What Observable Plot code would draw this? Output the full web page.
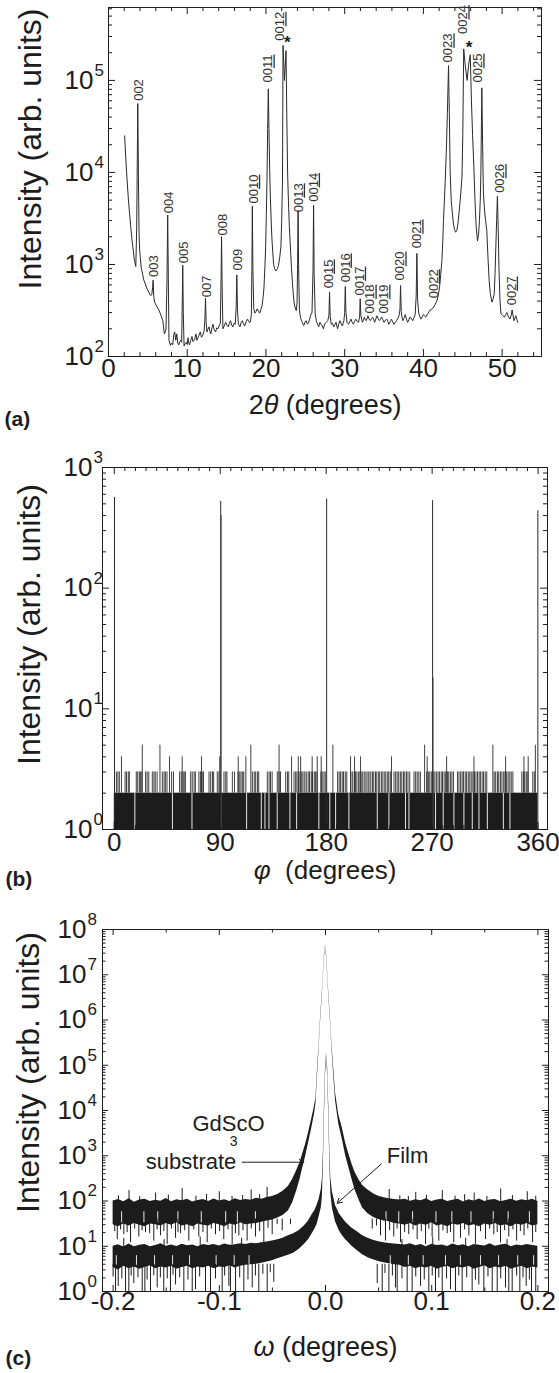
<!DOCTYPE html>
<html><head><meta charset="utf-8">
<script src="https://cdn.jsdelivr.net/npm/d3@7"></script>
<script src="https://cdn.jsdelivr.net/npm/@observablehq/plot@0.6"></script>
<style>
html,body{margin:0;padding:0;background:#fff;}
#chart svg{display:block;}
</style></head>
<body><div id="chart"></div>
<script>
// ---------------- Panel (a): 2theta scan ----------------
const aScan = [
[2.05,25000],[2.2,14000],[2.35,8500],[2.5,5500],[2.65,3800],[2.8,2700],[3.0,1800],[3.15,1400],[3.3,1100],[3.47,950],
[3.58,2500],[3.65,12000],[3.72,56000],[3.8,9000],[3.88,2200],[3.95,1450],[4.15,930],[4.48,680],[4.9,545],[5.33,460],
[5.5,470],[5.6,560],[5.67,675],[5.75,450],[5.85,390],[6.18,345],[6.4,320],[6.6,290],[6.9,245],[7.1,176],
[7.3,195],[7.42,600],[7.52,3450],[7.6,700],[7.68,150],[7.87,132],[8.0,140],[8.16,134],[8.3,175],[8.41,185],
[8.55,150],[8.67,176],[8.8,140],[8.92,134],[9.05,145],[9.17,150],[9.3,143],[9.38,450],[9.43,980],[9.5,300],
[9.6,130],[9.73,138],[9.86,143],[10.0,135],[10.1,160],[10.2,140],[10.3,134],[10.45,150],[10.6,165],[10.73,145],
[10.86,150],[11.0,158],[11.1,176],[11.23,150],[11.36,160],[11.5,170],[11.66,185],[11.8,162],[11.95,168],[12.15,190],
[12.25,260],[12.32,430],[12.4,240],[12.5,185],[12.63,198],[12.76,210],[12.88,188],[13.0,176],[13.14,205],[13.27,224],
[13.43,195],[13.6,185],[13.75,205],[13.9,200],[14.05,215],[14.2,230],[14.3,700],[14.36,2000],[14.43,600],[14.53,200],
[14.7,215],[14.88,235],[15.05,218],[15.22,210],[15.36,230],[15.5,245],[15.65,220],[15.8,210],[15.95,230],[16.1,224],
[16.22,350],[16.3,770],[16.38,330],[16.5,225],[16.7,210],[16.85,235],[17.0,245],[17.15,225],[17.3,215],[17.5,240],
[17.65,255],[17.8,240],[18.0,235],[18.15,285],[18.22,1000],[18.27,4300],[18.34,900],[18.45,330],[18.6,296],[18.75,310],
[18.9,330],[19.05,310],[19.2,296],[19.35,325],[19.5,355],[19.65,450],[19.75,565],[19.88,1000],[19.96,1550],[20.05,3500],
[20.13,8100],[20.22,30000],[20.3,81000],[20.38,30000],[20.47,11000],[20.56,5400],[20.67,2900],[20.77,1820],[20.88,1300],[20.98,1000],
[21.1,900],[21.27,850],[21.45,900],[21.6,980],[21.75,1200],[21.9,1550],[22.0,3000],[22.1,8100],[22.17,240000],[22.35,100000],
[22.55,210000],[22.65,40000],[22.75,10000],[22.85,5000],[22.97,2600],[23.1,1550],[23.25,900],[23.4,565],[23.55,400],[23.68,345],
[23.85,315],[23.95,380],[24.02,1000],[24.08,3800],[24.15,900],[24.25,320],[24.37,268],[24.55,240],[24.8,217],[24.95,235],
[25.1,245],[25.25,225],[25.4,230],[25.55,255],[25.7,285],[25.85,300],[25.98,900],[26.05,4400],[26.12,800],[26.25,290],
[26.4,245],[26.55,225],[26.7,210],[26.85,235],[27.0,224],[27.15,215],[27.3,200],[27.45,225],[27.65,235],[27.85,245],
[28.0,280],[28.08,500],[28.16,270],[28.3,224],[28.45,230],[28.6,210],[28.75,222],[28.9,235],[29.0,215],[29.1,200],
[29.25,225],[29.4,245],[29.55,228],[29.7,215],[29.9,245],[30.0,300],[30.08,575],[30.16,300],[30.3,235],[30.5,224],
[30.65,240],[30.8,255],[30.95,235],[31.1,224],[31.25,240],[31.4,255],[31.6,240],[31.75,235],[31.9,268],[31.97,425],
[32.05,280],[32.25,235],[32.4,252],[32.5,268],[32.62,250],[32.75,245],[32.95,277],[33.1,255],[33.25,245],[33.4,258],
[33.55,268],[33.7,250],[33.8,235],[33.95,255],[34.1,277],[34.25,258],[34.4,245],[34.55,255],[34.7,268],[34.85,250],
[35.0,235],[35.2,250],[35.35,255],[35.5,240],[35.6,224],[35.8,240],[35.95,255],[36.1,238],[36.25,224],[36.45,235],
[36.6,245],[36.75,260],[36.9,277],[37.02,320],[37.1,590],[37.18,310],[37.3,260],[37.4,245],[37.55,265],[37.7,285],
[37.85,255],[38.0,235],[38.15,250],[38.3,268],[38.5,255],[38.65,245],[38.8,265],[38.95,285],[39.08,450],[39.17,1320],
[39.26,420],[39.4,296],[39.55,270],[39.7,255],[39.85,270],[40.0,285],[40.15,275],[40.3,268],[40.45,282],[40.6,296],
[40.75,310],[40.85,320],[41.0,325],[41.15,330],[41.3,345],[41.5,370],[41.6,385],[41.75,410],[41.9,470],[42.05,566],
[42.2,780],[42.35,1100],[42.45,1700],[42.55,3000],[42.67,5000],[42.77,8100],[42.9,16000],[43.05,45000],[43.19,145000],[43.3,40000],
[43.4,10000],[43.53,5000],[43.68,3600],[43.82,2760],[43.95,2400],[44.1,2240],[44.25,2350],[44.38,2760],[44.52,3600],[44.67,5000],
[44.8,6800],[44.9,9000],[45.0,25000],[45.12,220000],[45.3,150000],[45.55,100000],[45.75,150000],[45.95,190000],[46.1,60000],[46.25,25000],
[46.4,12000],[46.55,5000],[46.7,2600],[46.87,1800],[47.0,2100],[47.12,3000],[47.22,5000],[47.3,10000],[47.42,83000],[47.52,20000],
[47.62,6000],[47.75,4000],[47.9,3000],[48.05,2350],[48.2,1200],[48.35,670],[48.5,480],[48.7,390],[48.85,420],[49.0,480],
[49.1,800],[49.2,1550],[49.3,3000],[49.4,5500],[49.5,2500],[49.6,900],[49.72,420],[49.85,290],[50.05,280],[50.3,268],
[50.45,285],[50.6,300],[50.8,270],[51.0,255],[51.15,280],[51.27,320],[51.4,275],[51.5,245],[51.62,262],[51.75,277],
[51.88,250],[52.0,235]
];
// [label, 2theta, intensity at the label's foot]
const aPeakLabels = [
["002",3.85,60000],["003",5.75,730],["004",7.65,3600],["005",9.55,1030],["007",12.5,440],["008",14.5,2070],
["009",16.4,860],["0010",18.45,4600],["0011",20.3,95000],["0012",21.8,270000],["0013",24.15,3700],["0014",26.05,4800],
["0015",27.95,550],["0016",30.1,640],["0017",31.9,460],["0018",33.25,293],["0019",35.0,293],["0020",37.05,670],
["0021",39.2,1500],["0022",41.3,430],["0023",43.15,157000],["0024",45.05,320000],["0025",46.95,95000],["0026",49.75,6000],
["0027",51.2,360]
];
const aStars = [[22.7,2.6e5],[45.8,2.3e5]];
const aXTicks = [0,10,20,30,40,50];
const aXTickLabels = ["0","10","20","30","40","50"];
const aXMinor = [2,4,6,8,12,14,16,18,22,24,26,28,32,34,36,38,42,44,46,48,52,54];
const aYExp = [2,3,4,5];

// ---------------- Panel (b): phi scan ----------------
const bPeaks = [[0.2,565],[90.4,523],[180.4,548],[270.4,531],[359.8,438]];
const bShoulders = [[90.9,400],[270.9,18]];
const bBand = [[0.0,359.8]];
const bSpikes3 = [1.8,3.1,4.3,9.2,10.4,11.9,12.8,18.7,19.9,21.3,22.2,23.4,26.6,27.9,29.3,32.3,33.7,34.8,36.4,
40.8,42.3,43.4,44.8,48.7,50.3,55.5,56.9,58.5,59.4,60.4,64.9,66.2,67.8,68.9,71.9,73.2,74.7,75.8,80.5,81.9,83.4,84.4,
87.5,88.9,93.2,94.7,95.7,100.3,102.1,105.1,106.6,107.7,109.1,110.0,117.3,118.9,120.1,121.6,122.7,130.0,131.5,132.7,134.1,
138.5,139.9,141.2,145.6,147.1,148.2,152.7,154.1,155.2,156.7,157.8,159.3,160.3,161.8,163.1,164.7,165.8,167.3,168.4,169.9,
171.0,172.2,175.5,176.6,178.1,179.2,189.7,191.0,192.1,193.6,194.7,196.2,197.5,200.9,202.2,203.8,205.0,206.1,207.6,208.7,
210.3,211.2,212.8,213.9,215.5,216.4,217.9,219.3,220.4,221.9,223.0,224.6,225.5,227.1,228.2,229.8,230.7,232.3,233.2,234.5,
237.6,239.0,240.3,241.6,243.0,244.2,245.7,246.8,248.2,249.5,251.0,254.6,256.0,257.3,258.7,260.0,265.4,266.8,268.0,269.3,
271.0,272.3,273.6,275.0,276.2,277.7,278.8,280.2,281.5,283.0,284.1,285.5,286.8,288.1,291.5,292.8,294.2,295.5,296.6,298.1,
299.3,300.7,302.0,303.2,304.6,306.0,307.2,308.5,309.9,311.0,312.5,313.7,315.1,316.4,322.7,324.0,325.5,326.6,328.0,329.3,
330.8,331.9,333.3,334.6,336.0,337.2,338.6,346.2,347.5,348.7,350.0,351.3,355.5,356.8];
const bSpikes4 = [6.1,46.9,57.7,74.1,89.6,105.3,111.8,150.6,156.3,158.3,168.1,172.4,175.8,200.7,204.1,209.2,235.5,265.8,282.3,305.5,332.4,348.0,351.6];
const bSpikes5 = [23.8,38.8,116,140,185.7,263.6,321.6,357.7];
const bGaps = [17.5,49.4,66,112.4,124.9,128,131.4,138.4,149.2,154.9,173.8,183.1,188,199.3,223.4,233.3,247.4,250.3,272.9,279.4,288.5,297,304.1,309.8,316.9,330.5,336.1];
const bXTicks = [0,90,180,270,360];
const bXTickLabels = ["0","90","180","270","360"];
const bYExp = [0,1,2,3];

// ---------------- Panel (c): omega rocking curves ----------------
// [omega, lower edge, upper edge] of the noisy trace
const cSubstrate = [
[-0.200,30,100],[-0.195,27,108],[-0.190,31,96],[-0.185,28,112],[-0.180,32,94],[-0.175,29,105],[-0.170,27,110],[-0.165,31,97],
[-0.160,30,104],[-0.155,28,99],[-0.150,32,113],[-0.145,29,96],[-0.140,33,106],[-0.135,28,101],[-0.130,30,110],[-0.125,27,95],
[-0.120,31,103],[-0.115,29,108],[-0.110,28,97],[-0.105,32,111],[-0.100,30,100],[-0.095,27,106],[-0.090,31,98],[-0.085,29,112],
[-0.080,33,103],[-0.075,30,108],[-0.070,31,104],[-0.065,32,115],[-0.060,34,110],[-0.055,36,120],[-0.050,38,125],[-0.045,42,140],
[-0.040,48,165],[-0.035,60,210],[-0.031,90,300],[-0.027,170,480],[-0.024,300,700],[-0.022,480,1000],[-0.019,900,1700],
[-0.016,1900,3200],[-0.013,4000,6500],[-0.0105,8000,12000],[-0.009,14000,19000],[-0.0075,60000,85000],[-0.006,2.4e5,3e5],
[-0.0047,9e5,1.1e6],[-0.003,3.5e6,4.2e6],[-0.002,1e7,1.15e7],[-0.001,2.4e7,2.8e7],[0.0,4.2e7,4.5e7],[0.001,2.4e7,2.8e7],
[0.002,1e7,1.15e7],[0.003,3.5e6,4.2e6],[0.0047,9e5,1.1e6],[0.006,2.4e5,3e5],[0.0075,70000,1e5],[0.0095,16000,24000],
[0.0125,5000,8000],[0.0157,2400,4200],[0.019,1000,1900],[0.022,550,1100],[0.025,300,650],[0.028,170,420],[0.032,100,280],
[0.035,70,220],[0.040,52,175],[0.045,44,145],[0.050,39,128],[0.055,36,118],[0.060,35,112],[0.065,32,108],[0.070,31,105],
[0.075,29,110],[0.080,32,99],[0.085,28,107],[0.090,31,101],[0.095,29,112],[0.100,33,97],[0.105,28,105],[0.110,30,110],
[0.115,27,98],[0.120,31,104],[0.125,29,109],[0.130,32,95],[0.135,28,106],[0.140,30,100],[0.145,27,111],[0.150,31,97],
[0.155,29,105],[0.160,32,108],[0.165,28,96],[0.170,30,103],[0.175,27,110],[0.180,31,99],[0.185,29,106],[0.190,32,101],
[0.195,28,109],[0.200,30,98]
];
const cFilm = [
[-0.200,3.4,10],[-0.195,3.0,10.8],[-0.190,3.6,9.6],[-0.185,3.2,11.2],[-0.180,3.5,9.8],[-0.175,3.1,10.5],[-0.170,3.4,11.0],
[-0.165,3.7,9.7],[-0.160,3.2,10.4],[-0.155,3.5,11.3],[-0.150,3.3,10.0],[-0.145,3.6,10.7],[-0.140,3.1,9.9],[-0.135,3.4,11.1],
[-0.130,3.6,10.2],[-0.125,3.2,10.6],[-0.120,3.5,9.8],[-0.115,3.3,11.0],[-0.110,3.6,10.4],[-0.105,3.2,10.9],[-0.100,3.5,10.1],
[-0.095,3.4,11.2],[-0.090,3.7,10.5],[-0.085,3.3,10.8],[-0.080,3.6,11.3],[-0.075,3.8,10.9],[-0.070,3.9,11.6],[-0.065,4.0,11.4],
[-0.060,4.2,12.0],[-0.055,4.5,12.4],[-0.050,4.8,13.0],[-0.045,5.3,14.0],[-0.040,5.8,15.0],[-0.035,6.3,17.0],[-0.030,7.0,19.0],
[-0.025,8.5,22],[-0.020,11,28],[-0.016,14,36],[-0.0125,19,50],[-0.010,24,62],[-0.008,30,80],[-0.006,45,110],[-0.004,70,180],
[-0.003,120,300],[-0.002,600,1200],[-0.001,8000,15000],[0.000,60000,90000],[0.001,160000,185000],[0.002,60000,90000],
[0.003,8000,15000],[0.004,800,1500],[0.005,150,320],[0.0065,70,160],[0.0094,35,80],[0.013,22,52],[0.016,17,42],[0.019,14,34],
[0.025,10,25],[0.030,8,21],[0.035,6.5,17],[0.040,5.6,15],[0.045,5.0,13.5],[0.050,4.6,12.5],[0.055,4.3,12.0],[0.060,4.1,11.5],
[0.065,3.9,11.2],[0.070,3.8,11.0],[0.075,3.4,10.6],[0.080,3.6,11.3],[0.085,3.2,10.2],[0.090,3.5,10.9],[0.095,3.3,9.8],
[0.100,3.6,11.1],[0.105,3.1,10.4],[0.110,3.4,10.7],[0.115,3.6,9.9],[0.120,3.2,11.2],[0.125,3.5,10.3],[0.130,3.3,10.8],
[0.135,3.6,9.7],[0.140,3.1,11.0],[0.145,3.4,10.5],[0.150,3.7,10.1],[0.155,3.2,11.3],[0.160,3.5,10.0],[0.165,3.3,10.6],
[0.170,3.6,11.1],[0.175,3.1,9.8],[0.180,3.4,10.7],[0.185,3.6,10.2],[0.190,3.2,11.0],[0.195,3.5,10.4],[0.200,3.3,10.0]
];
// noise spikes: [omega, intensity reached]
const cFilmDown = [[-0.1977,1],[-0.1952,1.3],[-0.1883,1],[-0.1852,1],[-0.1805,1.5],[-0.1726,1],[-0.1701,1],[-0.1648,1],
[-0.1585,1.2],[-0.1523,1],[-0.146,1],[-0.1412,1.4],[-0.1334,1],[-0.1255,1],[-0.1224,1.1],[-0.113,1],[-0.1083,1],[-0.0973,1],
[-0.091,1.3],[-0.0895,1],[-0.0847,1],[-0.0769,1],[-0.069,1.2],[-0.0628,1],[-0.0549,1],[-0.0487,1.6],
[0.0487,1.5],[0.0534,1],[0.0597,1],[0.0659,1.2],[0.0675,1],[0.0769,1],[0.0816,1],[0.0895,1.3],[0.0973,1],[0.1036,1],
[0.1099,1],[0.1177,1.1],[0.1224,1],[0.1287,1],[0.1381,1],[0.1444,1.4],[0.1491,1],[0.157,1],[0.1617,1],[0.1695,1.2],
[0.1726,1],[0.1758,1],[0.183,1],[0.189,1.3],[0.194,1],[0.198,1]];
const cFilmDownShort = [[-0.2,2.1],[-0.1918,1.9],[-0.183,2.2],[-0.1766,2.0],[-0.168,1.8],[-0.1617,2.2],[-0.1555,2.0],[-0.149,1.9],
[-0.1436,2.3],[-0.1373,2.0],[-0.1295,1.8],[-0.1185,2.1],[-0.1036,1.9],[-0.095,2.2],[-0.0808,2.0],[-0.073,1.8],[-0.066,2.2],
[-0.059,2.4],[-0.052,2.6],[0.056,2.5],[0.063,2.2],[0.072,1.9],[0.085,2.1],[0.093,1.8],[0.1005,2.2],[0.1067,2.0],[0.114,1.9],
[0.1255,2.2],[0.133,2.0],[0.1412,1.8],[0.153,2.1],[0.165,1.9],[0.18,2.2],[0.186,2.0],[0.192,1.8]];
const cFilmUp = [[-0.19,15],[-0.152,14],[-0.118,16],[-0.079,15],[0.072,14],[0.101,16],[0.132,15],[0.171,14]];
const cFilmStreaks = [-0.197,-0.178,-0.161,-0.144,-0.128,-0.103,-0.086,-0.072,0.061,0.078,0.092,0.113,0.127,0.146,0.163,0.181,0.196];
const cSubDown = [[-0.1961,14],[-0.1899,18],[-0.1836,12],[-0.1758,16],[-0.1695,20],[-0.1617,13],[-0.1554,17],[-0.1491,11],
[-0.1412,15],[-0.1365,19],[-0.1287,13],[-0.1193,16],[-0.1114,12],[-0.1036,18],[-0.0958,14],[-0.0879,11],[-0.0816,17],
[-0.0738,13],[-0.0659,16],[-0.0581,12],[-0.0502,18],[-0.0408,22],[-0.033,30],
[0.044,24],[0.0518,17],[0.0565,13],[0.0643,16],[0.0706,12],[0.0784,18],[0.0863,14],[0.0942,11],[0.1004,16],[0.1067,13],
[0.1146,19],[0.1208,12],[0.1271,15],[0.135,17],[0.1412,11],[0.1507,14],[0.1585,18],[0.1648,12],[0.1726,16],[0.18,13],
[0.187,17],[0.195,12]];
const cSubDownShort = [[-0.1985,21],[-0.193,23],[-0.1868,20],[-0.1797,24],[-0.1727,22],[-0.1656,19],[-0.1586,23],[-0.1522,21],
[-0.1451,24],[-0.1389,20],[-0.1326,22],[-0.124,23],[-0.1154,20],[-0.1075,24],[-0.0997,21],[-0.0918,23],[-0.0848,19],
[-0.0777,22],[-0.0699,24],[-0.062,21],[-0.0541,25],[-0.0455,30],[0.048,28],[0.0604,22],[0.0674,24],[0.0745,20],[0.0824,23],
[0.0902,21],[0.0973,24],[0.1106,22],[0.1177,20],[0.131,23],[0.146,21],[0.1546,24],[0.1617,20],[0.1687,22],[0.1765,23],
[0.1835,21],[0.1905,24],[0.198,20]];
const cSubUp = [[-0.185,170],[-0.16,150],[-0.135,190],[-0.1,160],[-0.07,175],[-0.055,200],[0.06,180],[0.085,155],[0.11,170],[0.14,150],[0.165,185],[0.19,160],
[-0.195,130],[-0.175,125],[-0.148,135],[-0.122,128],[-0.112,140],[-0.088,126],[-0.078,132],[-0.062,138],[0.07,130],[0.078,126],
[0.095,134],[0.122,128],[0.131,138],[0.152,125],[0.176,132],[0.198,128]];
const cSubStreaks = [-0.192,-0.171,-0.158,-0.139,-0.117,-0.094,-0.083,-0.066,0.057,0.069,0.082,0.104,0.119,0.137,0.158,0.172,0.192];
const cNotes = [["GdScO",-0.0913,5160,"end",22],["3",-0.0866,2065,"middle",14],["substrate",-0.1266,746,"middle",22],["Film",0.0772,1012,"middle",22]];
const cArrows = [[-0.0784,720,-0.0204,720],[0.0527,664,0.011,89]];
const cXTicks = [-0.2,-0.1,0,0.1,0.2];
const cXTickLabels = ["-0.2","-0.1","0.0","0.1","0.2"];
const cXMinor = [-0.15,-0.05,0.05,0.15];
const cYExp = [0,1,2,3,4,5,6,7,8];

// ---------------- helpers ----------------
const FONT = "'Liberation Sans', Arial, Helvetica, sans-serif";
const INK = "#1c1c1c";
const LINE = "#2a2a2a";
const minorLog = (exps, max) => exps.flatMap(e => [2,3,4,5,6,7,8,9].map(k => k * 10 ** e)).filter(v => v < max);

function boxTicks(xMaj, xMin, yMaj, yMin, fw, fh, maj = 7, mn = 4) {
  const s = {stroke: INK, strokeWidth: 1};
  return [
    Plot.tickX(xMaj, {x: d => d, insetTop: fh - maj, ...s}),
    Plot.tickX(xMaj, {x: d => d, insetBottom: fh - maj, ...s}),
    Plot.tickX(xMin, {x: d => d, insetTop: fh - mn, ...s}),
    Plot.tickX(xMin, {x: d => d, insetBottom: fh - mn, ...s}),
    Plot.tickY(yMaj, {y: d => d, insetRight: fw - maj, ...s}),
    Plot.tickY(yMaj, {y: d => d, insetLeft: fw - maj, ...s}),
    Plot.tickY(yMin, {y: d => d, insetRight: fw - mn, ...s}),
    Plot.tickY(yMin, {y: d => d, insetLeft: fw - mn, ...s}),
    Plot.frame({stroke: INK, strokeWidth: 1})
  ];
}
function axisText(o) {
  const {xTicks, xLabels, xDy, yExp, baseDx, expDx, fs, xfs = fs, title, titleDy, titleFs, panel, panelDx, panelDy, yDx, yDy, yFs} = o;
  const T = {fontFamily: FONT, fill: INK};
  return [
    Plot.text(xTicks, {x: d => d, text: (d, i) => xLabels[i], frameAnchor: "bottom", dy: xDy, fontSize: xfs, ...T}),
    Plot.text(yExp, {y: e => 10 ** e, text: () => "10", frameAnchor: "left", textAnchor: "end", dx: baseDx, fontSize: fs, ...T}),
    Plot.text(yExp, {y: e => 10 ** e, text: e => String(e), frameAnchor: "left", textAnchor: "start", dx: expDx, dy: -10, fontSize: Math.round(fs * 0.64), ...T}),
    Plot.text([title], {text: d => d, frameAnchor: "bottom", textAnchor: "middle", dy: titleDy, fontSize: titleFs, ...T}),
    Plot.text([panel], {text: d => d, frameAnchor: "bottom-left", textAnchor: "start", dx: panelDx, dy: panelDy, fontSize: 21, fontWeight: "bold", ...T}),
    Plot.text(["Intensity (arb. units)"], {text: d => d, frameAnchor: "left", textAnchor: "middle", rotate: -90, dx: yDx, dy: yDy, fontSize: yFs, ...T})
  ];
}

// ---------------- Panel (a) ----------------
const plotA = Plot.plot({
  width: 559, height: 440, marginTop: 7, marginRight: 18, marginBottom: 84, marginLeft: 108,
  x: {domain: [0, 55], axis: null},
  y: {type: "log", domain: [100, 6.2e5], axis: null},
  style: {background: "#fff", overflow: "visible"},
  marks: [
    Plot.line(aScan, {x: d => d[0], y: d => d[1], stroke: LINE, strokeWidth: 1}),
    ...boxTicks(aXTicks, aXMinor, aYExp.map(e => 10 ** e), minorLog([2,3,4,5], 6.2e5), 433, 349),
    Plot.text(aPeakLabels, {x: d => d[1], y: d => d[2], text: d => d[0], rotate: -90, textAnchor: "start", fontSize: 13, fontFamily: FONT, fill: "#333"}),
    Plot.text(aStars, {x: d => d[0], y: d => d[1], text: () => "*", fontSize: 17, fontWeight: "bold", fontFamily: FONT, fill: INK}),
    ...axisText({xTicks: aXTicks, xLabels: aXTickLabels, xDy: 20, yExp: aYExp, baseDx: -15, expDx: -14, fs: 26,
      title: "2θ (degrees)", titleDy: 57, titleFs: 27, panel: "(a)", panelDx: -104, panelDy: 69, yDx: -78, yDy: -33, yFs: 32})
  ]
});

// ---------------- Panel (b) ----------------
const plotB = Plot.plot({
  width: 559, height: 458, marginTop: 27, marginRight: 12, marginBottom: 69, marginLeft: 102,
  x: {domain: [-10, 368], axis: null},
  y: {type: "log", domain: [1, 1000], axis: null},
  style: {background: "#fff", overflow: "visible"},
  marks: [
    Plot.rect(bBand, {x1: d => d[0], x2: d => d[1], y1: 1, y2: 2, fill: INK}),
    Plot.ruleX(bGaps, {x: d => d, y1: 1, y2: 2, stroke: "#fff", strokeWidth: 0.9}),
    Plot.ruleX(bSpikes3, {x: d => d, y1: 2, y2: 3, stroke: LINE, strokeWidth: 0.9}),
    Plot.ruleX(bSpikes4, {x: d => d, y1: 2, y2: 4, stroke: LINE, strokeWidth: 0.9}),
    Plot.ruleX(bSpikes5, {x: d => d, y1: 2, y2: 5, stroke: LINE, strokeWidth: 0.9}),
    Plot.ruleX(bShoulders, {x: d => d[0], y1: 1, y2: d => d[1], stroke: "#555", strokeWidth: 0.8}),
    Plot.ruleX(bPeaks, {x: d => d[0], y1: 1, y2: d => d[1], stroke: LINE, strokeWidth: 1}),
    ...boxTicks(bXTicks, d3.range(9, 360, 9).filter(d => d % 90), bYExp.map(e => 10 ** e), minorLog([0,1,2], 1000), 445, 362),
    ...axisText({xTicks: bXTicks, xLabels: bXTickLabels, xDy: 21, yExp: bYExp, baseDx: -10, expDx: -9, fs: 26,
      title: "φ  (degrees)", titleDy: 49, titleFs: 26, panel: "(b)", panelDx: -97, panelDy: 56, yDx: -73, yDy: -24, yFs: 32})
  ]
});

// ---------------- Panel (c) ----------------
const plotC = Plot.plot({
  width: 559, height: 475, marginTop: 31, marginRight: 11, marginBottom: 82, marginLeft: 102,
  x: {domain: [-0.21, 0.21], axis: null},
  y: {type: "log", domain: [1, 1e8], axis: null},
  style: {background: "#fff", overflow: "visible"},
  marks: [
    Plot.areaY(cSubstrate, {x: d => d[0], y1: d => d[1], y2: d => d[2], fill: INK}),
    Plot.ruleX(cSubStreaks, {x: d => d, y1: 33, y2: 58, stroke: "#fff", strokeWidth: 0.9}),
    Plot.ruleX(cSubDown, {x: d => d[0], y1: d => d[1], y2: 40, stroke: INK, strokeWidth: 1}),
    Plot.ruleX(cSubDownShort, {x: d => d[0], y1: d => d[1], y2: 40, stroke: INK, strokeWidth: 1}),
    Plot.ruleX(cSubUp, {x: d => d[0], y1: 90, y2: d => d[1], stroke: INK, strokeWidth: 1}),
    Plot.areaY(cFilm, {x: d => d[0], y1: d => d[1], y2: d => d[2], fill: INK}),
    Plot.ruleX(cFilmStreaks, {x: d => d, y1: 3.8, y2: 6.2, stroke: "#fff", strokeWidth: 0.9}),
    Plot.ruleX(cFilmDown, {x: d => d[0], y1: d => d[1], y2: 4, stroke: INK, strokeWidth: 1}),
    Plot.ruleX(cFilmDownShort, {x: d => d[0], y1: d => d[1], y2: 4, stroke: INK, strokeWidth: 1}),
    Plot.ruleX(cFilmUp, {x: d => d[0], y1: 8, y2: d => d[1], stroke: INK, strokeWidth: 1}),
    ...boxTicks(cXTicks, cXMinor, cYExp.map(e => 10 ** e), minorLog([0,1,2,3,4,5,6,7], 1e8), 446, 362, 6, 3.5),
    Plot.text(cNotes, {x: d => d[1], y: d => d[2], text: d => d[0], textAnchor: d => d[3], fontSize: d => d[4], fontFamily: FONT, fill: INK}),
    Plot.arrow(cArrows, {x1: d => d[0], y1: d => d[1], x2: d => d[2], y2: d => d[3], stroke: INK, strokeWidth: 1, headLength: 8}),
    ...axisText({xTicks: cXTicks, xLabels: cXTickLabels, xDy: 18, yExp: cYExp, baseDx: -16, expDx: -15, fs: 26, xfs: 26,
      title: "ω (degrees)", titleDy: 64, titleFs: 27, panel: "(c)", panelDx: -97, panelDy: 73, yDx: -74, yDy: -38, yFs: 32})
  ]
});

// ---------------- styling of special glyphs ----------------
const NS = "http://www.w3.org/2000/svg";
function decorate(svg) {
  svg.querySelectorAll("text").forEach(t => {
    const s = t.textContent;
    const m = s.match(/^00(\d\d)$/);
    if (m) {
      t.textContent = "00";
      const sp = document.createElementNS(NS, "tspan");
      sp.textContent = m[1];
      sp.setAttribute("style", "text-decoration: underline");
      t.appendChild(sp);
      return;
    }
    if (/[θφω]/.test(s)) {
      t.textContent = "";
      s.split(/([θφω])/).forEach(part => {
        if (!part) return;
        const sp = document.createElementNS(NS, "tspan");
        sp.textContent = part;
        if (/[θφω]/.test(part)) sp.setAttribute("font-style", "italic");
        t.appendChild(sp);
      });
    }
  });
}
[plotA, plotB, plotC].forEach(decorate);
document.getElementById("chart").append(plotA, plotB, plotC);
</script>
</body></html>
